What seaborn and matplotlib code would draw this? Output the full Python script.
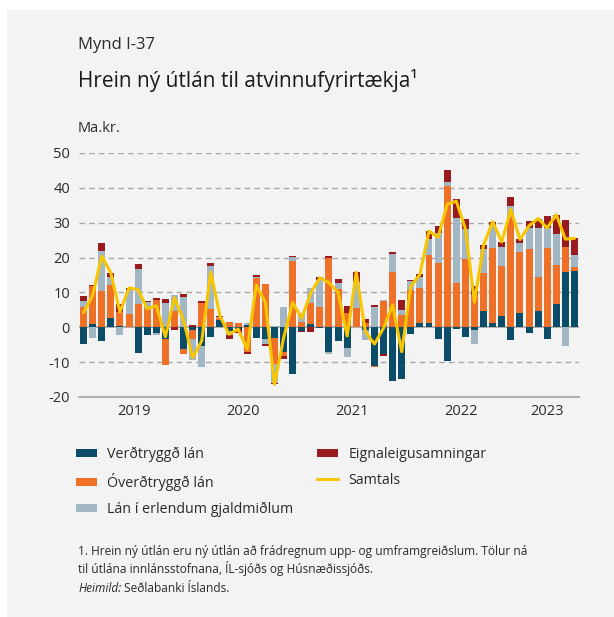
import numpy as np
import pandas as pd
import matplotlib
matplotlib.use("Agg")
import matplotlib.pyplot as plt
import seaborn as sns
from matplotlib.patches import Patch, Rectangle
from matplotlib.lines import Line2D

sns.set_theme(style="white")
plt.rcParams['font.family'] = ['Open Sans', 'DejaVu Sans']

# Monthly data Jan 2019 - Jul 2023 (ma.kr.)
years = ["2019", "2020", "2021", "2022", "2023"]
months_per_year = [12, 12, 12, 12, 7]

verdtryggd = [-4.8, 1.0, -3.8, 2.7, 0.4, 0.0, -7.3, -2.2, -1.5, -3.3, 0.0, -6.2,
              -0.8, -5.5, -2.7, 2.0, -1.0, -0.4, 0.7, -3.0, -3.3, -3.1, -7.1, -13.4,
              -1.1, 1.0, -0.3, -7.1, -3.9, -6.0, 0.0, -0.8, -11.0, -7.6, -15.3, -14.8,
              -1.9, 1.2, 1.2, -3.3, -9.7, -0.5, -2.7, -0.8, 4.7, 1.2, 3.3, -3.6,
              4.1, -1.5, 4.7, -3.3, 6.7, 15.9, 16.2]
overdtryggd = [5.9, 10.9, 10.4, 9.5, 4.0, 3.9, 6.7, 5.2, 7.8, -7.5, 4.7, -1.4,
               -2.6, 7.0, 5.3, 0.6, 1.5, 1.2, -7.2, 14.2, 12.4, -7.5, -1.1, 19.0,
               1.6, 5.9, 5.8, 19.9, 11.0, 4.0, 5.5, 1.3, -0.3, 7.6, 15.9, 3.5,
               10.7, 10.1, 19.5, 18.5, 40.5, 12.7, 19.6, 9.3, 10.9, 21.6, 14.4, 31.5,
               17.5, 22.6, 9.6, 22.8, 11.2, 7.2, 1.1]
erlend = [1.6, -3.0, 11.5, 2.1, -2.2, 6.9, 10.0, 2.0, -0.7, 7.0, 4.6, 8.7,
          -6.0, -6.0, 12.3, 0.4, -1.1, 0.0, 0.6, 0.3, -1.5, -5.4, 5.9, 1.1,
          2.4, 4.3, 7.9, -0.6, 1.7, -2.6, 7.6, -2.8, 5.9, 0.3, 5.2, 1.4,
          2.6, 3.0, 4.6, 8.6, 1.1, 18.6, 8.6, -3.9, 6.9, 6.5, 5.4, 3.3,
          2.7, 6.0, 14.3, 5.7, 8.9, -5.5, 3.4]
eignaleiga = [1.5, 0.2, 2.3, 1.3, 2.2, 0.5, 1.4, 0.3, 0.6, 1.1, -0.8, 0.9,
              0.7, 0.6, 0.9, 0.3, -1.4, -1.3, -0.4, 0.6, -0.5, -0.4, -0.8, 0.4,
              -0.3, -1.3, 0.8, 0.6, 1.2, 2.1, 2.7, 1.0, 0.6, -0.5, 0.6, 2.9,
              0.3, 0.9, 2.3, 2.0, 3.4, 5.4, 2.8, 2.6, 1.1, 1.0, 1.4, 2.6,
              0.9, 2.0, 2.6, 3.3, 5.5, 7.7, 4.8]

series_names = ["Verðtryggð lán", "Óverðtryggð lán", "Lán í erlendum gjaldmiðlum",
                "Eignaleigusamningar"]
colors = ["#0b4d68", "#ee7127", "#a3b6c3", "#9a1b1f"]
line_color = "#f7c600"

comp = np.array([verdtryggd, overdtryggd, erlend, eignaleiga])
n = comp.shape[1]
pos = np.arange(n)
total = comp.sum(axis=0)

pos_cum = np.cumsum(np.clip(comp, 0, None), axis=0)
neg_cum = np.cumsum(np.clip(comp, None, 0), axis=0)

W, H = 614, 617
fig = plt.figure(figsize=(W / 100, H / 100), dpi=100, facecolor="white")
fig.patches.append(Rectangle((7 / W, 0), 1 - 7 / W, 1 - 10 / H, transform=fig.transFigure,
                             facecolor="#f3f3f3", edgecolor="none", zorder=-10))

ax = fig.add_axes([79 / W, 1 - 397 / H, 500 / W, 244 / H])
ax.set_facecolor("none")

# grid & zero line
for yv in range(-10, 51, 10):
    if yv == 0:
        ax.axhline(0, color="#a8a8a8", lw=1.3, zorder=0.5)
    else:
        ax.axhline(yv, color="#a8a8a8", lw=1.0, dashes=(4, 3), zorder=0.5)

bar_w = 0.77
for k in range(3, -1, -1):
    df = pd.DataFrame({"x": pos, "y": pos_cum[k]})
    sns.barplot(data=df, x="x", y="y", native_scale=True, color=colors[k], saturation=1,
                width=bar_w, errorbar=None, linewidth=0, ax=ax, zorder=2)
for k in range(3, -1, -1):
    df = pd.DataFrame({"x": pos, "y": neg_cum[k]})
    sns.barplot(data=df, x="x", y="y", native_scale=True, color=colors[k], saturation=1,
                width=bar_w, errorbar=None, linewidth=0, ax=ax, zorder=2)

sns.lineplot(x=pos, y=total, color=line_color, lw=2.2, ax=ax, zorder=3,
             estimator=None, sort=False)

ax.set_xlim(-0.5, n - 0.5)
ax.set_ylim(-20, 50)
ax.set_yticks(range(-20, 51, 10))
ax.set_yticklabels([str(v) for v in range(-20, 51, 10)])
ax.tick_params(axis="y", length=0, pad=6.5, labelsize=10.5, labelcolor="#2b2b2b")

bounds = np.concatenate([[0], np.cumsum(months_per_year)]) - 0.5
centers = (bounds[:-1] + bounds[1:]) / 2
ax.set_xticks(bounds)
ax.set_xticklabels([""] * len(bounds))
ax.set_xticks(centers, minor=True)
ax.set_xticklabels(years, minor=True)
ax.tick_params(axis="x", which="major", length=7.5, width=1.3, color="#a8a8a8", direction="out")
ax.tick_params(axis="x", which="minor", length=0, pad=5, labelsize=10.5, labelcolor="#2b2b2b")
ax.set_xlabel("")
ax.set_ylabel("")

for s in ["top", "right", "left"]:
    ax.spines[s].set_visible(False)
ax.spines["bottom"].set_color("#a8a8a8")
ax.spines["bottom"].set_linewidth(1.3)
ax.spines["bottom"].set_position(("data", -20))

# titles
fig.text(78 / W, 1 - 45 / H, "Mynd I-37", fontsize=12, color="#2b2b2b", va="center", ha="left")
fig.text(78 / W, 1 - 80 / H, "Hrein ný útlán til atvinnufyrirtækja¹", fontsize=15,
         color="#1a1a1a", va="center", ha="left")
fig.text(78 / W, 1 - 128 / H, "Ma.kr.", fontsize=10.5, color="#2b2b2b", va="center", ha="left")

# legends
leg_kw = dict(loc="upper left", frameon=False, fontsize=10.3, handlelength=1.5,
              handleheight=0.5, handletextpad=0.7, labelspacing=0.76,
              labelcolor="#2b2b2b", borderpad=0, borderaxespad=0)
h1 = [Patch(facecolor=colors[i], edgecolor="none") for i in range(3)]
fig.legend(h1, series_names[:3], bbox_to_anchor=(76 / W, 1 - 447 / H), **leg_kw)
h2 = [Patch(facecolor=colors[3], edgecolor="none"),
      Line2D([0], [0], color=line_color, lw=2.2)]
fig.legend(h2, [series_names[3], "Samtals"], bbox_to_anchor=(317 / W, 1 - 447 / H), **leg_kw)

# footnotes
fig.text(78 / W, 1 - 551 / H,
         "1. Hrein ný útlán eru ný útlán að frádregnum upp- og umframgreiðslum. Tölur ná",
         fontsize=8.6, color="#2b2b2b", va="center", ha="left")
fig.text(78 / W, 1 - 568 / H, "til útlána innlánsstofnana, ÍL-sjóðs og Húsnæðissjóðs.",
         fontsize=8.6, color="#2b2b2b", va="center", ha="left")
t_h = fig.text(78 / W, 1 - 589 / H, "Heimild:", fontsize=8.6, color="#2b2b2b",
               va="center", ha="left", style="italic")
fig.canvas.draw()
bb = t_h.get_window_extent()
fig.text((bb.x1 + 3) / W, 1 - 589 / H, "Seðlabanki Íslands.", fontsize=8.6,
         color="#2b2b2b", va="center", ha="left")

fig.savefig("out.png", dpi=100, facecolor=fig.get_facecolor())
